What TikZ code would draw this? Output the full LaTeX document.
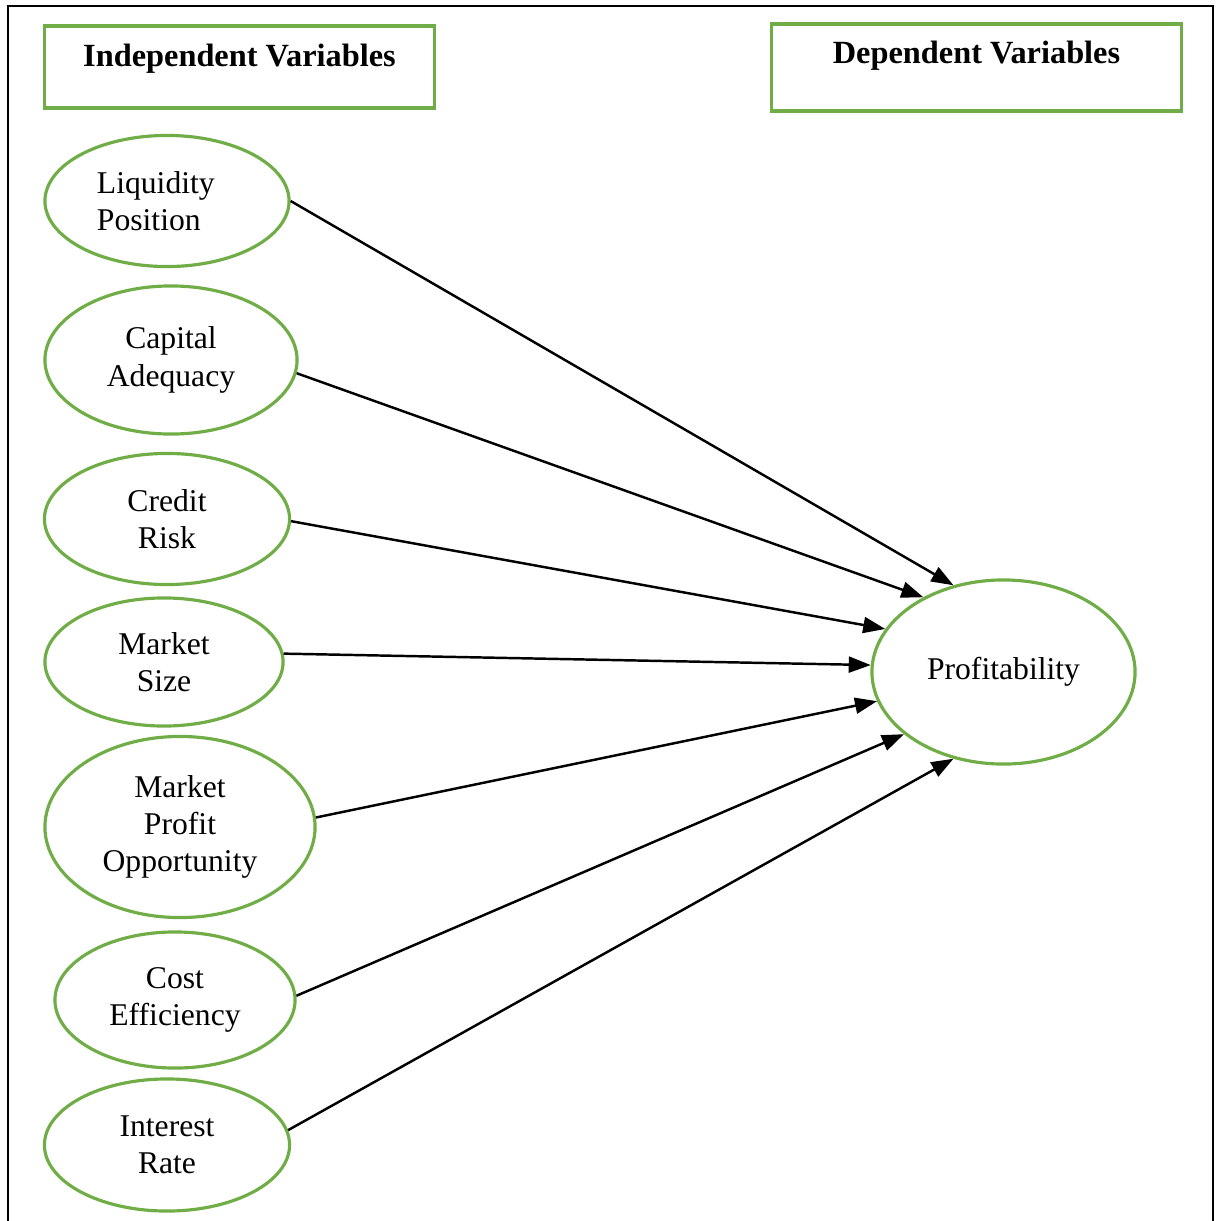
\documentclass[tikz,border=0pt]{standalone}
\usepackage{fontspec}
\setmainfont{Liberation Serif}
\usepackage{tikz}
\usetikzlibrary{arrows.meta,shapes.geometric}

\definecolor{leafgreen}{RGB}{112,173,71}

\tikzset{
    var/.style={draw=leafgreen, line width=0.9pt, ellipse, inner sep=0pt, align=center,
        font=\fontsize{9}{10.6}\selectfont},
    hdr/.style={draw=leafgreen, line width=0.9pt, rectangle, inner sep=0pt,
        font=\fontsize{9.2}{10.6}\selectfont\bfseries, text height=0.22cm},
    link/.style={line width=0.7pt, -{Triangle[length=2.2mm, width=1.6mm]}}
}

\begin{document}
\begin{tikzpicture}[x=0.01cm, y=-0.01cm]

    %% Background
    \useasboundingbox (0,0) rectangle (1216,1221);

    % Frame (open at the bottom)
    \draw[line width=0.8pt] (8,1221) -- (8,6) -- (1213,6) -- (1213,1221);

    % Headings
    \node[hdr, minimum width=3.89cm, minimum height=0.82cm, text depth=0.24cm]
        (indep) at (239.5,67) {Independent Variables};
    \node[hdr, minimum width=4.09cm, minimum height=0.87cm, text depth=0.29cm]
        (dep) at (976.5,67.5) {Dependent Variables};

    % Independent variables
    \node[var, minimum width=2.44cm, minimum height=1.31cm, text width=1.4cm, align=left]
        (liq) at (167,201) {Liquidity\\Position};
    \node[var, minimum width=2.52cm, minimum height=1.48cm] (cap) at (171,360) {Capital\\Adequacy};
    \node[var, minimum width=2.45cm, minimum height=1.31cm] (cre) at (167,519) {Credit\\Risk};
    \node[var, minimum width=2.38cm, minimum height=1.28cm] (msz) at (164,662) {Market\\Size};
    \node[var, minimum width=2.70cm, minimum height=1.81cm] (mpo) at (180,827) {Market\\Profit\\Opportunity};
    \node[var, minimum width=2.40cm, minimum height=1.36cm] (cos) at (175,1000) {Cost\\Efficiency};
    \node[var, minimum width=2.45cm, minimum height=1.32cm] (irt) at (167,1145) {Interest\\Rate};

    % Dependent variable
    \node[var, minimum width=2.63cm, minimum height=1.84cm] (prof) at (1003.5,672) {Profitability};

    % Links
    \draw[link] (liq.east) -- (prof.120);
    \draw[link] (cap.-6) -- (prof.137);
    \draw[link] (cre.-1) -- (prof.160);
    \draw[link] (msz.4) -- (prof.177);
    \draw[link] (mpo.4) -- (prof.193);
    \draw[link] (cos.2) -- (prof.212);
    \draw[link] (irt.7) -- (prof.240);

\end{tikzpicture}
\end{document}
